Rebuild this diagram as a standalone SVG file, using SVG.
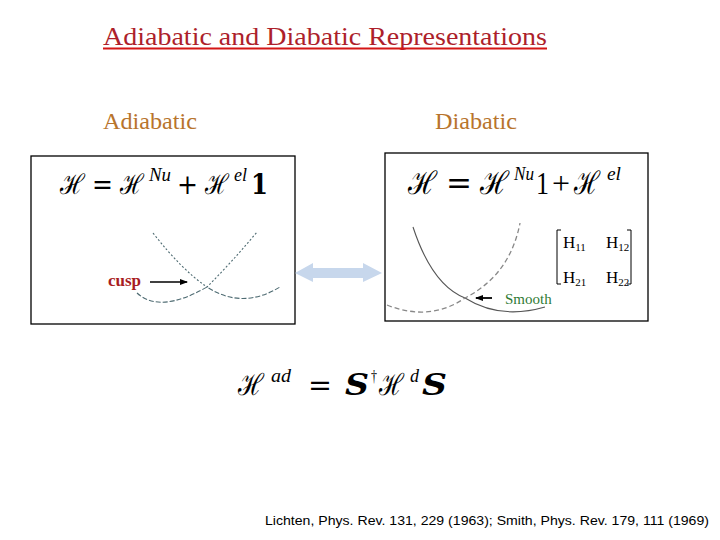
<svg xmlns="http://www.w3.org/2000/svg" width="720" height="540" viewBox="0 0 720 540">
<style>
.serif{font-family:"Liberation Serif","Times New Roman",serif}
.math{font-family:"DejaVu Serif","Liberation Serif",serif;fill:#000}
.ls{font-family:"Liberation Serif","Times New Roman",serif}
.box{fill:#fff;stroke:#000;stroke-width:1.3}
.it{font-style:italic}
.b{font-weight:bold}
.mx{font-family:"Liberation Serif","Times New Roman",serif;font-size:17px;fill:#000}
.sub{font-size:11px}
</style>
<defs>
<marker id="ah" markerWidth="8" markerHeight="8" refX="7" refY="4" orient="auto" markerUnits="userSpaceOnUse">
<path d="M0,1 L8,4 L0,7 z" fill="#000"/>
</marker>
</defs>
<rect width="720" height="540" fill="#fff"/>
<g id="title">
<text x="103" y="45" class="serif" font-size="26" fill="#ad1f2b" textLength="444" lengthAdjust="spacingAndGlyphs">Adiabatic and Diabatic Representations</text>
<line x1="103" y1="48.5" x2="547" y2="48.5" stroke="#d41515" stroke-width="2"/>
</g>
<text x="103" y="129" class="serif" font-size="23" fill="#b8742c" textLength="94" lengthAdjust="spacingAndGlyphs">Adiabatic</text>
<text x="435" y="129" class="serif" font-size="23" fill="#b8742c" textLength="82" lengthAdjust="spacingAndGlyphs">Diabatic</text>
<g id="adiabatic-box">
<rect class="box" x="31" y="156" width="264" height="168"/>
<g class="math" font-size="28">
<text x="60" y="194" textLength="25" lengthAdjust="spacingAndGlyphs">ℋ</text>
<text x="92" y="194" textLength="21" lengthAdjust="spacingAndGlyphs">=</text>
<text x="120" y="194" textLength="24" lengthAdjust="spacingAndGlyphs">ℋ</text>
<text x="149" y="181" class="ls it" font-size="18" textLength="22" lengthAdjust="spacingAndGlyphs">Nu</text>
<text x="177" y="194" textLength="21" lengthAdjust="spacingAndGlyphs">+</text>
<text x="205" y="194" textLength="24" lengthAdjust="spacingAndGlyphs">ℋ</text>
<text x="234" y="181" class="ls it" font-size="18" textLength="13" lengthAdjust="spacingAndGlyphs">el</text>
<text x="251" y="194" class="b" textLength="17" lengthAdjust="spacingAndGlyphs">1</text>
</g>
<g fill="none" stroke="#4e6b72" stroke-width="1.1" stroke-dasharray="2,2">
<path d="M153,233 Q182,270 207,287 Q232,262 257,232"/>
<path d="M137,293 Q160,314 207,287 Q242,310 280,287" stroke-dasharray="5,2"/>
</g>
<text x="108" y="286" class="serif" font-size="17" font-weight="bold" fill="#a81c22">cusp</text>
<line x1="150" y1="282" x2="187" y2="282" stroke="#000" stroke-width="1.6" marker-end="url(#ah)"/>
</g>
<g id="double-arrow">
<path d="M295,273 L313,263 L313,268 L363,268 L363,263 L382,273 L363,282 L363,278 L313,278 L313,282 Z" fill="#c7d7ec"/>
</g>
<g id="diabatic-box">
<rect class="box" x="385" y="153" width="263" height="168"/>
<g class="math" font-size="32">
<text x="408" y="194" textLength="29" lengthAdjust="spacingAndGlyphs">ℋ</text>
<text x="446" y="194" textLength="26" lengthAdjust="spacingAndGlyphs">=</text>
<text x="480" y="194" textLength="29" lengthAdjust="spacingAndGlyphs">ℋ</text>
<text x="514" y="180" class="ls it" font-size="18" textLength="20" lengthAdjust="spacingAndGlyphs">Nu</text>
<text x="536" y="194" class="ls" textLength="13" lengthAdjust="spacingAndGlyphs">1</text>
<text x="552" y="194" class="ls" textLength="18" lengthAdjust="spacingAndGlyphs">+</text>
<text x="574" y="194" textLength="26" lengthAdjust="spacingAndGlyphs">ℋ</text>
<text x="607" y="180" class="ls it" font-size="19" textLength="14" lengthAdjust="spacingAndGlyphs">el</text>
</g>
<path d="M413,227 Q432,285 465,298 Q500,320 545,307" fill="none" stroke="#555" stroke-width="1.1"/>
<path d="M387,305 Q430,322 465,298 Q510,275 520,223" fill="none" stroke="#888" stroke-width="1.3" stroke-dasharray="5,3"/>
<line x1="492" y1="298" x2="476" y2="298" stroke="#000" stroke-width="1.8" marker-end="url(#ah)"/>
<text x="505" y="304" class="serif" font-size="15" fill="#2f7a34">Smooth</text>
<g fill="none" stroke="#000" stroke-width="1">
<path d="M561,230 L557,230 L557,284 L561,284"/>
<path d="M627,230 L631,230 L631,284 L627,284"/>
</g>
<text x="563" y="248" class="mx">H<tspan class="sub" dy="3">11</tspan></text>
<text x="606" y="248" class="mx">H<tspan class="sub" dy="3">12</tspan></text>
<text x="563" y="283" class="mx">H<tspan class="sub" dy="3">21</tspan></text>
<text x="606" y="283" class="mx">H<tspan class="sub" dy="3">22</tspan></text>
</g>
<g id="relation" class="math" font-size="30">
<text x="238" y="395" textLength="26" lengthAdjust="spacingAndGlyphs">ℋ</text>
<text x="271" y="382" class="ls it" font-size="18" textLength="20" lengthAdjust="spacingAndGlyphs">ad</text>
<text x="308" y="395" textLength="24" lengthAdjust="spacingAndGlyphs">=</text>
<text x="345" y="395" class="b it" textLength="24" lengthAdjust="spacingAndGlyphs">S</text>
<text x="371" y="382" class="ls" font-size="17" textLength="6" lengthAdjust="spacingAndGlyphs">†</text>
<text x="379" y="395" textLength="25" lengthAdjust="spacingAndGlyphs">ℋ</text>
<text x="410" y="382" class="ls it" font-size="18" textLength="9" lengthAdjust="spacingAndGlyphs">d</text>
<text x="422" y="395" class="b it" textLength="25" lengthAdjust="spacingAndGlyphs">S</text>
</g>
<text x="265" y="525" font-family="Liberation Sans, Arial, sans-serif" font-size="13" fill="#000" textLength="444" lengthAdjust="spacingAndGlyphs">Lichten, Phys. Rev. 131, 229 (1963); Smith, Phys. Rev. 179, 111 (1969)</text>
</svg>
